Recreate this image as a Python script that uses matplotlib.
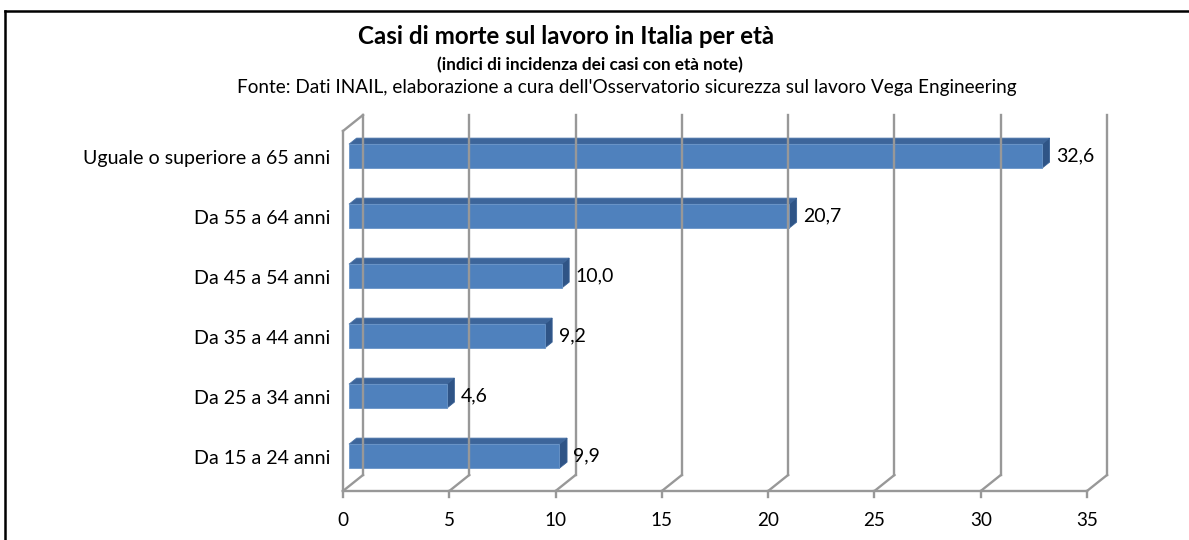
import matplotlib.pyplot as plt
import matplotlib.transforms as mtransforms
from matplotlib.patches import Polygon
from matplotlib.lines import Line2D

plt.rcParams['font.family'] = ['Lato', 'DejaVu Sans']

# dati (dal basso verso l'alto)
categorie = ['Da 15 a 24 anni', 'Da 25 a 34 anni', 'Da 35 a 44 anni',
             'Da 45 a 54 anni', 'Da 55 a 64 anni', 'Uguale o superiore a 65 anni']
valori = [9.9, 4.6, 9.2, 10.0, 20.7, 32.6]
etichette = ['9,9', '4,6', '9,2', '10,0', '20,7', '32,6']
tick_x = [0, 5, 10, 15, 20, 25, 30, 35]

W, H = 1189, 540
DX, DY = 20, 16          # profondita' dello pseudo 3D, in pixel
Z0, Z1 = 0.30, 0.68      # posizione delle barre nella profondita'
MEZZA = 0.2              # meta' altezza barra (unita' categoria)
GRIGIO = '#989898'
FS = 13.6

fig = plt.figure(figsize=(W / 100, H / 100), dpi=100)
ax = fig.add_axes([343 / W, 49 / H, 744 / W, 360 / H])
ax.set_xlim(0, 35)
ax.set_ylim(-0.5, len(categorie) - 0.5)
ax.axis('off')

ident = mtransforms.IdentityTransform()


def punto(x, y, z=0.0):
    px, py = ax.transData.transform((x, y))
    return px + z * DX, py + z * DY


def linea(p, q, **kw):
    ax.add_line(Line2D([p[0], q[0]], [p[1], q[1]], transform=ident,
                       color=GRIGIO, lw=1.7, clip_on=False, **kw))


y_min, y_max = -0.5, len(categorie) - 0.5

# pavimento e pareti
linea(punto(0, y_min), punto(35, y_min))
linea(punto(0, y_min), punto(0, y_max))
linea(punto(0, y_max), punto(0, y_max, 1))
for t in tick_x:
    linea(punto(t, y_min), punto(t, y_min, 1))
    linea(punto(t, y_min, 1), punto(t, y_max, 1))
    p = punto(t, y_min)
    linea(p, (p[0], p[1] - 6))
    ax.text(p[0], p[1] - 30, str(t), transform=ident, ha='center', va='center',
            fontsize=FS)

# barre
for i, (v, lab) in enumerate(zip(valori, etichette)):
    y0, y1 = i - MEZZA, i + MEZZA
    fronte = [punto(0, y0, Z0), punto(v, y0, Z0), punto(v, y1, Z0), punto(0, y1, Z0)]
    sopra = [punto(0, y1, Z0), punto(v, y1, Z0), punto(v, y1, Z1), punto(0, y1, Z1)]
    lato = [punto(v, y0, Z0), punto(v, y1, Z0), punto(v, y1, Z1), punto(v, y0, Z1)]
    ax.add_patch(Polygon(sopra, closed=True, transform=ident, facecolor='#3D659A',
                         edgecolor='#4A74A8', lw=0.6, clip_on=False))
    ax.add_patch(Polygon(lato, closed=True, transform=ident, facecolor='#2F5486',
                         edgecolor='#3A6296', lw=0.6, clip_on=False))
    ax.add_patch(Polygon(fronte, closed=True, transform=ident, facecolor='#4F81BD',
                         edgecolor='#6A95C8', lw=0.6, clip_on=False))
    p = punto(v, i, Z0)
    ax.text(p[0] + 14, p[1], lab, transform=ident, ha='left', va='center',
            fontsize=14)
    q = punto(0, i, 0.15)
    ax.text(330, q[1], categorie[i], transform=ident, ha='right', va='center',
            fontsize=14.1)

# titoli
fig.text(566 / W, 1 - 37 / H, 'Casi di morte sul lavoro in Italia per età',
         ha='center', va='center', fontsize=17.4, fontweight='bold')
fig.text(590 / W, 1 - 65 / H, '(indici di incidenza dei casi con età note)',
         ha='center', va='center', fontsize=12.3, fontweight='bold')
fig.text(627 / W, 1 - 88 / H,
         "Fonte: Dati INAIL, elaborazione a cura dell'Osservatorio sicurezza sul lavoro Vega Engineering",
         ha='center', va='center', fontsize=13.7)

# cornice (solo lati superiore e sinistro visibili)
fig.add_artist(Line2D([5 / W, 1.0], [1 - 11 / H, 1 - 11 / H], transform=fig.transFigure,
                      color='black', lw=1.8))
fig.add_artist(Line2D([5 / W, 5 / W], [1 - 11 / H, 0.0], transform=fig.transFigure,
                      color='black', lw=1.8))

fig.savefig('out.png', dpi=100)
